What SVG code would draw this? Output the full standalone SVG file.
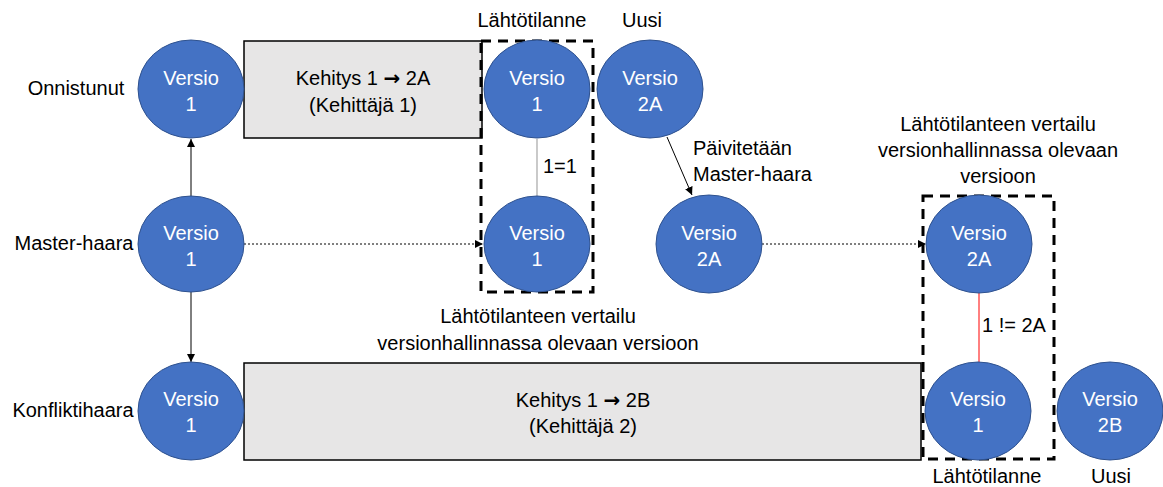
<svg xmlns="http://www.w3.org/2000/svg" width="1163" height="487" viewBox="0 0 1163 487">
<defs>
<style>
text{font-family:"Liberation Sans",Arial,sans-serif;font-size:20px;fill:#000}
.ver{fill:#4472C4;stroke:#2F528F;stroke-width:1}
.vt{fill:#fff;text-anchor:middle}
.mid{text-anchor:middle}
.arr{font-family:"DejaVu Sans",sans-serif;font-weight:bold}
.box{fill:#e7e6e6;stroke:#000;stroke-width:1.5}
.dash{fill:none;stroke:#000;stroke-width:3;stroke-dasharray:10 7}
.solid{stroke:#000;stroke-width:1;fill:none}
.dot{stroke:#000;stroke-width:1;stroke-dasharray:2 2;fill:none}
</style>
<marker id="ah" viewBox="0 0 10 10" refX="10" refY="5" markerWidth="8" markerHeight="8" markerUnits="userSpaceOnUse" orient="auto">
<path d="M0,0 L10,5 L0,10 z" fill="#000"/>
</marker>
</defs>

<g id="labels">
<text x="76" y="95" class="mid">Onnistunut</text>
<text x="74" y="250" class="mid">Master-haara</text>
<text x="73" y="417" class="mid">Konfliktihaara</text>
<text x="532" y="27" class="mid">Lähtötilanne</text>
<text x="642" y="27" class="mid">Uusi</text>
<text x="693" y="155">Päivitetään</text>
<text x="693" y="181">Master-haara</text>
<text x="998" y="131" class="mid">Lähtötilanteen vertailu</text>
<text x="998" y="157" class="mid">versionhallinnassa olevaan</text>
<text x="998" y="183" class="mid">versioon</text>
<text x="538" y="323" class="mid">Lähtötilanteen vertailu</text>
<text x="538" y="350" class="mid">versionhallinnassa olevaan versioon</text>
<text x="987" y="483" class="mid">Lähtötilanne</text>
<text x="1111" y="483" class="mid">Uusi</text>
</g>

<g id="dev1">
<rect x="244" y="41" width="238" height="97" class="box"/>
<text x="363" y="85" class="mid">Kehitys 1 <tspan class="arr">→</tspan> 2A</text>
<text x="363" y="112" class="mid">(Kehittäjä 1)</text>
</g>
<g id="dev2">
<rect x="244" y="363" width="677" height="97" class="box"/>
<text x="583" y="407" class="mid">Kehitys 1 <tspan class="arr">→</tspan> 2B</text>
<text x="583" y="433" class="mid">(Kehittäjä 2)</text>
</g>

<g id="compare1">
<rect x="481" y="41" width="112" height="251" class="dash"/>
</g>
<g id="compare2">
<rect x="923" y="196" width="131" height="263" class="dash"/>
</g>

<g id="connectors">
<line x1="191" y1="196" x2="191" y2="139" class="solid" marker-end="url(#ah)"/>
<line x1="191" y1="292" x2="191" y2="362" class="solid" marker-end="url(#ah)"/>
<line x1="244" y1="244" x2="483" y2="244" class="dot" marker-end="url(#ah)"/>
<line x1="762" y1="244" x2="926" y2="244" class="dot" marker-end="url(#ah)"/>
<line x1="667" y1="137" x2="692" y2="195" class="solid" marker-end="url(#ah)"/>
<line x1="537" y1="139" x2="537" y2="196" stroke="#a6a6a6" stroke-width="1.2"/>
<line x1="979" y1="293" x2="979" y2="363" stroke="#ff0000" stroke-width="1"/>
<text x="543" y="173">1=1</text>
<text x="982" y="332">1 != 2A</text>
</g>

<g id="n-onnistunut">
<ellipse cx="191" cy="89" rx="53" ry="49" class="ver"/>
<text x="191" y="85" class="vt">Versio</text><text x="191" y="111" class="vt">1</text>
</g>
<g id="n-master">
<ellipse cx="191" cy="244" rx="53" ry="48" class="ver"/>
<text x="191" y="240" class="vt">Versio</text><text x="191" y="266" class="vt">1</text>
</g>
<g id="n-konflikti">
<ellipse cx="191" cy="411" rx="53" ry="49" class="ver"/>
<text x="191" y="406" class="vt">Versio</text><text x="191" y="432" class="vt">1</text>
</g>
<g id="n-start1">
<ellipse cx="537" cy="89" rx="53" ry="49" class="ver"/>
<text x="537" y="85" class="vt">Versio</text><text x="537" y="111" class="vt">1</text>
</g>
<g id="n-uusi2a">
<ellipse cx="650" cy="89" rx="53" ry="49" class="ver"/>
<text x="650" y="85" class="vt">Versio</text><text x="650" y="111" class="vt">2A</text>
</g>
<g id="n-start1b">
<ellipse cx="537" cy="244" rx="53" ry="48" class="ver"/>
<text x="537" y="240" class="vt">Versio</text><text x="537" y="266" class="vt">1</text>
</g>
<g id="n-master2a">
<ellipse cx="709" cy="244" rx="53" ry="49" class="ver"/>
<text x="709" y="240" class="vt">Versio</text><text x="709" y="266" class="vt">2A</text>
</g>
<g id="n-cmp2a">
<ellipse cx="979" cy="244" rx="53" ry="49" class="ver"/>
<text x="979" y="240" class="vt">Versio</text><text x="979" y="266" class="vt">2A</text>
</g>
<g id="n-cmp1">
<ellipse cx="978" cy="411" rx="53" ry="49" class="ver"/>
<text x="978" y="406" class="vt">Versio</text><text x="978" y="432" class="vt">1</text>
</g>
<g id="n-uusi2b">
<ellipse cx="1110" cy="411" rx="53" ry="49" class="ver"/>
<text x="1110" y="406" class="vt">Versio</text><text x="1110" y="432" class="vt">2B</text>
</g>
</svg>
